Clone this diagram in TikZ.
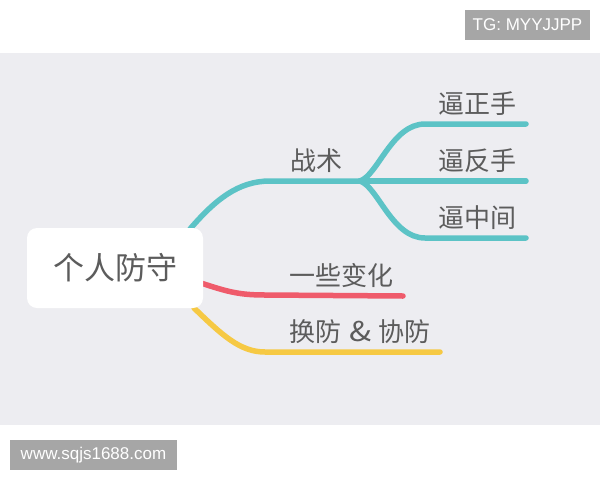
\documentclass[tikz,border=0pt]{standalone}
\usepackage{fontspec}
\newfontfamily\cjk{Noto Sans CJK SC}
\newfontfamily\wmfont{Liberation Sans}
\definecolor{bggray}{HTML}{EDEDF1}
\definecolor{teal1}{HTML}{5CC3C6}
\definecolor{red1}{HTML}{EF5B6B}
\definecolor{yellow1}{HTML}{F6C944}
\definecolor{txt}{HTML}{5C5C5C}
\definecolor{wmgray}{HTML}{A6A6A6}
\tikzset{
  branch/.style={line width=5.5pt, line cap=round},
  label/.style={text=txt, font=\cjk\fontsize{26}{30}\selectfont, inner sep=0pt},
  rootbox/.style={fill=white, rounded corners=10pt, minimum width=176pt, minimum height=80pt, text=txt, font=\cjk\fontsize{31}{36}\selectfont},
  wmbox/.style={fill=wmgray, text=white, font=\wmfont\fontsize{17}{20}\selectfont, inner sep=0pt}
}
\begin{document}
\begin{tikzpicture}[x=1pt,y=-1pt]
\useasboundingbox (0,0) rectangle (600,480);
\fill[white] (0,0) rectangle (600,480);
\fill[bggray] (0,53) rectangle (600,425);
% watermarks
\node[wmbox, minimum width=125pt, minimum height=30pt] (tg) at (527.5,25) {TG: MYYJJPP};
\node[wmbox, minimum width=167pt, minimum height=30pt] (www) at (93.5,455) {www.sqjs1688.com};
% coordinates of branch ends
\coordinate (t1) at (270,181);
\coordinate (split) at (360,181);
\coordinate (u1) at (425,124);
\coordinate (u2) at (526,124);
\coordinate (m2) at (526,181);
\coordinate (d1) at (425,238);
\coordinate (d2) at (526,238);
\coordinate (r1) at (265,295);
\coordinate (r2) at (403,296);
\coordinate (y1) at (265,352);
\coordinate (y2) at (440,352);
\coordinate (ts) at (190,229);
\coordinate (rs) at (201,283);
\coordinate (ys) at (194,308);
% branches
\draw[branch, teal1] (ts) .. controls (215,200) and (238,181) .. (t1) -- (split);
\draw[branch, teal1] (split) .. controls (378,175) and (392,124) .. (u1) -- (u2);
\draw[branch, teal1] (split) -- (m2);
\draw[branch, teal1] (split) .. controls (378,187) and (392,238) .. (d1) -- (d2);
\draw[branch, red1] (rs) .. controls (228,292) and (240,295) .. (r1) -- (r2);
\draw[branch, yellow1] (ys) .. controls (222,335) and (240,352) .. (y1) -- (y2);
% root
\node[rootbox] (root) at (115,268) {个人防守};
% labels
\node[label] (zs) at (316,161) {战术};
\node[label] (bzs) at (477,104) {逼正手};
\node[label] (bfs) at (477,161) {逼反手};
\node[label] (bzj) at (477,218) {逼中间};
\node[label] (yx) at (341,276) {一些变化};
\node[label] (hf) at (360,332) {换防\hspace{8pt}\scalebox{1.25}[1.05]{\&}\hspace{7pt}协防};
\end{tikzpicture}
\end{document}
